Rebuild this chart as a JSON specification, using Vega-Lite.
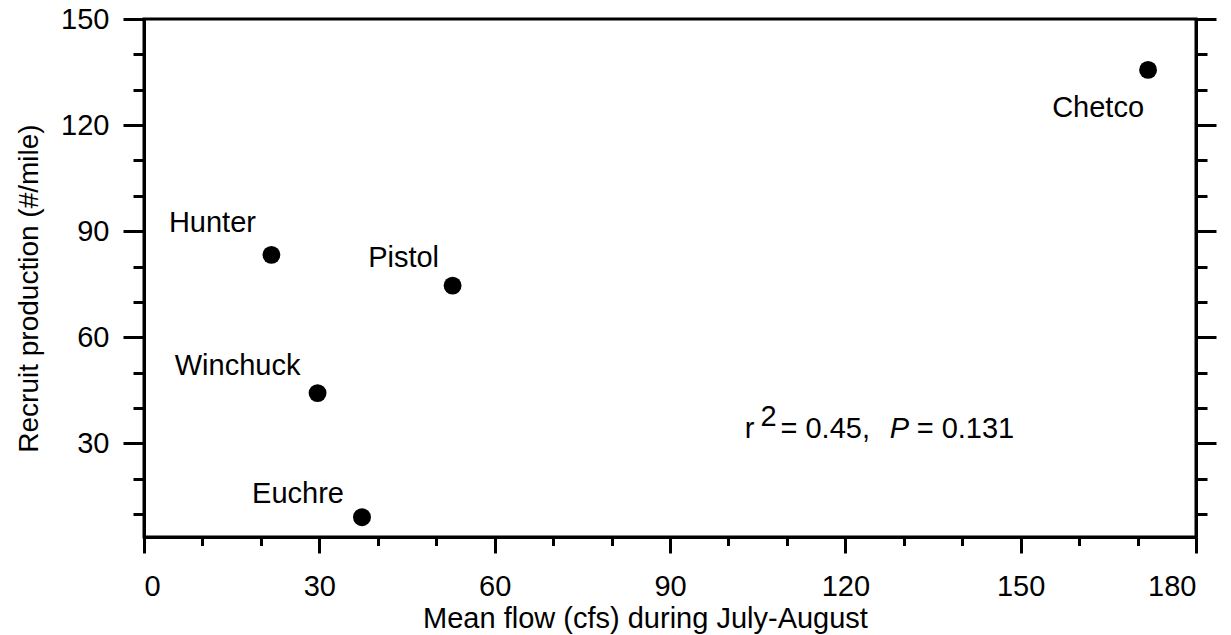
{
  "$schema": "https://vega.github.io/schema/vega-lite/v6.json",
  "autosize": {"type": "none"},
  "padding": {"left": 144, "top": 19, "right": 35, "bottom": 98},
  "width": 1052,
  "height": 518,
  "background": "white",
  "config": {
    "view": {"stroke": "black", "strokeWidth": 3},
    "axis": {
      "domainColor": "black", "domainWidth": 3, "tickColor": "black", "tickWidth": 3,
      "labelColor": "black", "labelFont": "Liberation Sans", "labelFontSize": 29,
      "titleFont": "Liberation Sans", "titleFontSize": 29, "titleFontWeight": "normal",
      "titleColor": "black", "grid": false
    },
    "text": {"font": "Liberation Sans", "fontSize": 29, "color": "black"}
  },
  "datasets": {
    "rivers": [
      {"river": "Chetco", "flow": 171.8, "recruit": 135.6},
      {"river": "Hunter", "flow": 21.8, "recruit": 83.3},
      {"river": "Pistol", "flow": 52.8, "recruit": 74.6},
      {"river": "Winchuck", "flow": 29.7, "recruit": 44.2},
      {"river": "Euchre", "flow": 37.3, "recruit": 9.1}
    ],
    "stat": [
      {"piece": "r", "flow": 102.8, "recruit": 31.6},
      {"piece": "2", "flow": 105.5, "recruit": 31.6},
      {"piece": "= 0.45,", "flow": 108.9, "recruit": 31.6},
      {"piece": "P", "flow": 127.6, "recruit": 31.6},
      {"piece": "= 0.131", "flow": 132.2, "recruit": 31.6}
    ]
  },
  "resolve": {"axis": {"x": "independent", "y": "independent"}},
  "layer": [
    {
      "data": {"name": "rivers"},
      "mark": {"type": "circle", "size": 320, "color": "black", "opacity": 1},
      "encoding": {
        "x": {"field": "flow", "type": "quantitative",
          "scale": {"domain": [0, 180], "nice": false, "zero": false},
          "axis": {"orient": "bottom", "values": [0, 30, 60, 90, 120, 150, 180], "tickSize": 16,
            "labelPadding": 19, "labelBaseline": "top",
            "title": "Mean flow (cfs) during July-August", "titleX": 501, "titleY": 90,
            "titleBaseline": "alphabetic", "titleAlign": "center"}},
        "y": {"field": "recruit", "type": "quantitative",
          "scale": {"domain": [3.5, 150], "nice": false, "zero": false},
          "axis": {"orient": "left", "values": [30, 60, 90, 120, 150], "tickSize": 21,
            "labelPadding": 14, "title": "Recruit production (#/mile)", "titleFontSize": 28,
            "titleAngle": -90, "titleX": -107, "titleY": 269, "titleBaseline": "alphabetic",
            "titleAlign": "center"}}
      }
    },
    {
      "data": {"name": "rivers"},
      "transform": [{"filter": "datum.river === 'Hunter'"}],
      "mark": {"type": "text", "align": "center", "baseline": "alphabetic", "dx": -59, "dy": -23},
      "encoding": {
        "x": {"field": "flow", "type": "quantitative", "scale": {"domain": [0, 180], "nice": false, "zero": false},
          "axis": {"orient": "bottom", "values": [10, 20, 40, 50, 70, 80, 100, 110, 130, 140, 160, 170],
            "tickSize": 8.5, "labels": false, "domain": false, "title": null}},
        "y": {"field": "recruit", "type": "quantitative", "scale": {"domain": [3.5, 150], "nice": false, "zero": false},
          "axis": {"orient": "left", "values": [10, 20, 40, 50, 70, 80, 100, 110, 130, 140],
            "tickSize": 11, "labels": false, "domain": false, "title": null}},
        "text": {"field": "river"}
      }
    },
    {
      "data": {"name": "rivers"},
      "transform": [{"filter": "datum.river === 'Pistol'"}],
      "mark": {"type": "text", "align": "center", "baseline": "alphabetic", "dx": -49, "dy": -19},
      "encoding": {
        "x": {"field": "flow", "type": "quantitative", "scale": {"domain": [0, 180], "nice": false, "zero": false}, "axis": null},
        "y": {"field": "recruit", "type": "quantitative", "scale": {"domain": [3.5, 150], "nice": false, "zero": false},
          "axis": {"orient": "right", "values": [30, 60, 90, 120, 150], "tickSize": 20,
            "labels": false, "domain": true, "title": null}},
        "text": {"field": "river"}
      }
    },
    {
      "data": {"name": "rivers"},
      "transform": [{"filter": "datum.river === 'Winchuck'"}],
      "mark": {"type": "text", "align": "center", "baseline": "alphabetic", "dx": -80, "dy": -18},
      "encoding": {
        "x": {"field": "flow", "type": "quantitative", "scale": {"domain": [0, 180], "nice": false, "zero": false}, "axis": null},
        "y": {"field": "recruit", "type": "quantitative", "scale": {"domain": [3.5, 150], "nice": false, "zero": false},
          "axis": {"orient": "right", "values": [10, 20, 40, 50, 70, 80, 100, 110, 130, 140],
            "tickSize": 11, "labels": false, "domain": false, "title": null}},
        "text": {"field": "river"}
      }
    },
    {
      "data": {"name": "rivers"},
      "transform": [{"filter": "datum.river === 'Euchre'"}],
      "mark": {"type": "text", "align": "center", "baseline": "alphabetic", "dx": -64, "dy": -14},
      "encoding": {
        "x": {"field": "flow", "type": "quantitative", "scale": {"domain": [0, 180], "nice": false, "zero": false}, "axis": null},
        "y": {"field": "recruit", "type": "quantitative", "scale": {"domain": [3.5, 150], "nice": false, "zero": false}, "axis": null},
        "text": {"field": "river"}
      }
    },
    {
      "data": {"name": "rivers"},
      "transform": [{"filter": "datum.river === 'Chetco'"}],
      "mark": {"type": "text", "align": "center", "baseline": "alphabetic", "dx": -50, "dy": 47},
      "encoding": {
        "x": {"field": "flow", "type": "quantitative", "scale": {"domain": [0, 180], "nice": false, "zero": false}, "axis": null},
        "y": {"field": "recruit", "type": "quantitative", "scale": {"domain": [3.5, 150], "nice": false, "zero": false}, "axis": null},
        "text": {"field": "river"}
      }
    },
    {
      "data": {"name": "stat"},
      "transform": [{"filter": "datum.piece !== 'P' && datum.piece !== '2'"}],
      "mark": {"type": "text", "align": "left", "baseline": "alphabetic", "fontSize": 29},
      "encoding": {
        "x": {"field": "flow", "type": "quantitative", "scale": {"domain": [0, 180], "nice": false, "zero": false}, "axis": null},
        "y": {"field": "recruit", "type": "quantitative", "scale": {"domain": [3.5, 150], "nice": false, "zero": false}, "axis": null},
        "text": {"field": "piece"}
      }
    },
    {
      "data": {"name": "stat"},
      "transform": [{"filter": "datum.piece === 'P'"}],
      "mark": {"type": "text", "align": "left", "baseline": "alphabetic", "fontSize": 29, "fontStyle": "italic"},
      "encoding": {
        "x": {"field": "flow", "type": "quantitative", "scale": {"domain": [0, 180], "nice": false, "zero": false}, "axis": null},
        "y": {"field": "recruit", "type": "quantitative", "scale": {"domain": [3.5, 150], "nice": false, "zero": false}, "axis": null},
        "text": {"field": "piece"}
      }
    },
    {
      "data": {"name": "stat"},
      "transform": [{"filter": "datum.piece === '2'"}],
      "mark": {"type": "text", "align": "left", "baseline": "alphabetic", "fontSize": 29, "dy": -12},
      "encoding": {
        "x": {"field": "flow", "type": "quantitative", "scale": {"domain": [0, 180], "nice": false, "zero": false}, "axis": null},
        "y": {"field": "recruit", "type": "quantitative", "scale": {"domain": [3.5, 150], "nice": false, "zero": false}, "axis": null},
        "text": {"field": "piece"}
      }
    }
  ]
}
